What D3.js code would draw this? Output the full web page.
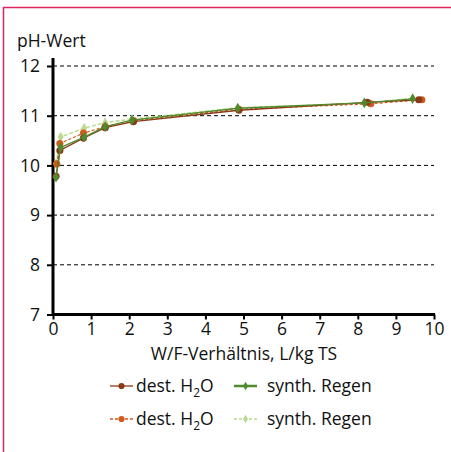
<!DOCTYPE html>
<html>
<head>
<meta charset="utf-8">
<script src="https://cdn.jsdelivr.net/npm/d3@7"></script>
<style>
  body { margin: 0; background: #fff; }
  text { font-family: "Open Sans", "Noto Sans", sans-serif; fill: #111; }
</style>
</head>
<body>
<div id="chart"></div>
<script>
const W = 451, H = 452;
const X0 = 53, X1 = 434, Y_TOP = 66, Y_BOT = 314.5;
const FS = "17.5px";

// data
const xTicks = [0, 1, 2, 3, 4, 5, 6, 7, 8, 9, 10];
const yTicks = [7, 8, 9, 10, 11, 12];
const brownX = [0.08, 0.18, 0.8, 1.37, 2.11, 4.88, 8.25, 9.6];
const brownY = [9.78, 10.3, 10.55, 10.76, 10.88, 11.11, 11.27, 11.32];
const orangeX = [0.1, 0.18, 0.8, 1.37, 2.11, 4.88, 8.34, 9.68];
const orangeY = [10.03, 10.44, 10.65, 10.78, 10.9, 11.13, 11.24, 11.32];
const greenX = [0.08, 0.2, 0.82, 1.37, 2.07, 4.85, 8.17, 9.44];
const greenY = [9.76, 10.36, 10.57, 10.78, 10.91, 11.15, 11.26, 11.34];
const lightX = [0.08, 0.2, 0.82, 1.37, 2.07, 4.85, 8.17, 9.44];
const lightY = [10.04, 10.57, 10.75, 10.86, 10.93, 11.16, 11.25, 11.35];

const seriesNames = ["dest. H2O", "dest. H2O", "synth. Regen", "synth. Regen"];
const colBrown = "#8a3a17", colOrange = "#cf5a1c", colGreen = "#4f8a2c", colLight = "#b9da8f";

const svg = d3.select("#chart").append("svg")
    .attr("width", W).attr("height", H);

// frame
svg.append("rect").attr("x", 3.5).attr("y", 7.5).attr("width", 460).attr("height", 460)
    .attr("fill", "none").attr("stroke", "#e0245e").attr("stroke-width", 1.5);

const x = d3.scaleLinear().domain([0, 10]).range([X0, X1]);
const y = d3.scaleLinear().domain([7, 12]).range([Y_BOT, Y_TOP]);

// grid
svg.append("g").selectAll("line").data(yTicks.filter(d => d > 7)).join("line")
    .attr("x1", X0).attr("x2", X1)
    .attr("y1", d => y(d)).attr("y2", d => y(d))
    .attr("stroke", "#000").attr("stroke-width", 1).attr("stroke-dasharray", "4,3");

// axes
const yAx = svg.append("g").attr("transform", "translate(" + X0 + ",0)")
    .call(d3.axisLeft(y).tickValues(yTicks).tickFormat(d3.format("d")).tickSize(6).tickSizeOuter(0).tickPadding(7));
const xAx = svg.append("g").attr("transform", "translate(0," + Y_BOT + ")")
    .call(d3.axisBottom(x).tickValues(xTicks).tickFormat(d3.format("d")).tickSize(5).tickSizeOuter(0).tickPadding(3));
[yAx, xAx].forEach(a => {
    a.select(".domain").remove();
    a.selectAll("line").attr("stroke", "#000").attr("stroke-width", 2);
    a.selectAll("text").style("font-size", FS).attr("fill", "#111");
});
svg.append("line").attr("x1", X0).attr("x2", X0).attr("y1", 58).attr("y2", Y_BOT + 1)
    .attr("stroke", "#000").attr("stroke-width", 3);
svg.append("line").attr("x1", X0 - 1).attr("x2", X1 + 1).attr("y1", Y_BOT).attr("y2", Y_BOT)
    .attr("stroke", "#000").attr("stroke-width", 3);

svg.append("text").attr("x", 17).attr("y", 47).style("font-size", FS).text("pH-Wert");
svg.append("text").attr("x", 244).attr("y", 360).attr("text-anchor", "middle")
    .style("font-size", FS).text("W/F-Verhältnis, L/kg TS");

const line = d3.line().x(d => x(d[0])).y(d => y(d[1]));
const series = [
    { xs: lightX, ys: lightY, color: colLight, dash: "4,2", sym: d3.symbolDiamond, w: 1.5 },
    { xs: orangeX, ys: orangeY, color: colOrange, dash: "3,2", sym: d3.symbolCircle, w: 1.2 },
    { xs: brownX, ys: brownY, color: colBrown, dash: null, sym: d3.symbolCircle, w: 1.3 },
    { xs: greenX, ys: greenY, color: colGreen, dash: null, sym: d3.symbolDiamond, w: 1.3 }
];
series.forEach(s => {
    const pts = s.xs.map((v, i) => [v, s.ys[i]]);
    svg.append("path").datum(pts).attr("d", line)
        .attr("fill", "none").attr("stroke", s.color).attr("stroke-width", s.w)
        .attr("stroke-dasharray", s.dash);
    svg.append("g").selectAll("path").data(pts).join("path")
        .attr("transform", d => "translate(" + x(d[0]) + "," + y(d[1]) + ")")
        .attr("d", d3.symbol().type(s.sym).size(s.sym === d3.symbolCircle ? 40 : 32))
        .attr("fill", s.color);
});

// legend
const legend = [
    { lx: 110, ly: 386, color: colBrown, dash: null, sym: d3.symbolCircle, name: seriesNames[0] },
    { lx: 110, ly: 419, color: colOrange, dash: "3,2", sym: d3.symbolCircle, name: seriesNames[1] },
    { lx: 234, ly: 386, color: colGreen, dash: null, sym: d3.symbolDiamond, name: seriesNames[2] },
    { lx: 234, ly: 419, color: colLight, dash: "3,2", sym: d3.symbolDiamond, name: seriesNames[3] }
];
legend.forEach((l, i) => {
    const g = svg.append("g").attr("transform", "translate(" + l.lx + "," + l.ly + ")");
    const lw = 23;
    g.append("line").attr("x1", 0).attr("x2", lw).attr("y1", 0).attr("y2", 0)
        .attr("stroke", l.color).attr("stroke-width", i === 2 ? 2.5 : 1.3).attr("stroke-dasharray", l.dash);
    g.append("path").attr("transform", "translate(" + lw / 2 + ",0)")
        .attr("d", d3.symbol().type(l.sym).size(i < 2 ? 30 : 22)).attr("fill", l.color);
    const t = g.append("text").attr("x", i < 2 ? 26 : 33).attr("y", 6).style("font-size", FS);
    if (i < 2) {
        t.append("tspan").text("dest. H");
        t.append("tspan").attr("dy", 5).style("font-size", "12px").text("2");
        t.append("tspan").attr("dy", -5).text("O");
    } else {
        t.text(l.name);
    }
});
</script>
</body>
</html>
